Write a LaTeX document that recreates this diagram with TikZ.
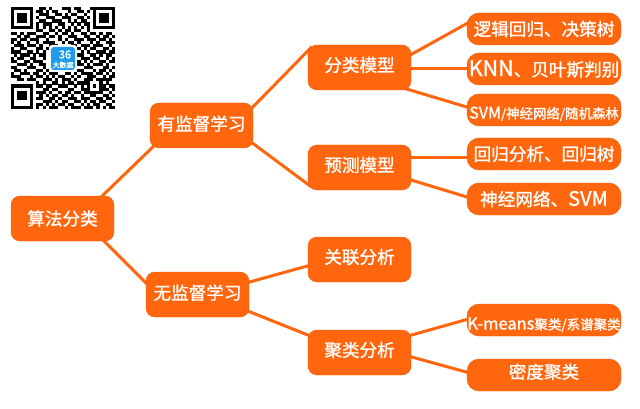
\documentclass[tikz,border=0pt]{standalone}
\usepackage{fontspec}
\setmainfont[FakeBold=1.3]{Noto Sans CJK SC}
\usetikzlibrary{calc,backgrounds}
\definecolor{boxorange}{HTML}{FF660D}
\definecolor{logoblue}{HTML}{1E9BEA}
\tikzset{
  base/.style={fill=boxorange,draw=boxorange!92!black,line width=.4pt,text=white,inner sep=0pt,align=center},
  midbox/.style={base,rounded corners=9pt,minimum width=103pt,minimum height=45pt},
  leaf/.style={base,rounded corners=12pt,minimum width=154pt,minimum height=32pt},
  link/.style={draw=boxorange,line width=3pt},
  qrcell/.style={fill=black,draw=none}
}
\newcommand{\tsize}[1]{\fontsize{#1}{#1}\selectfont}
\newcount\qrcol
\newcommand{\qrscan}[1]{\ifx#1;\else\if#11\fill[qrcell] ({11+\the\qrcol*3.16},{7+\qrrowno*3.1}) rectangle ++(3.2,3.15);\fi\advance\qrcol by 1 \expandafter\qrscan\fi}
\begin{document}
\begin{tikzpicture}[x=1pt,y=-1pt]
\useasboundingbox (0,0) rectangle (640,409);
% QR code
\foreach \qrrowno/\qrbits in {
0/111111100110100011101100011111111,
1/100000101101011000100110101000001,
2/101110100111001101011001001011101,
3/101110101001110011100110101011101,
4/101110100110011100101011001011101,
5/100000101011100110010101101000001,
6/111111101010101010101010101111111,
7/000000001100110101101100100000000,
8/110101110011001011010011011010110,
9/001011001110110100111001100101101,
10/110110111001000101001110111011010,
11/101001001011110010110100010100111,
12/011101110100111000011011101110010,
13/100110001101000000000101011001101,
14/111001101010000000000010100111011,
15/010111010110000000000110011010110,
16/101100110010000000000011101100101,
17/110011011100000000000101010011011,
18/001110100110000000000110101110100,
19/110001110010000000000001110001101,
20/011010001101000000000110001011010,
21/100111011010111001101011110110101,
22/111000101101010110010100111001011,
23/001101110011101011101001110111110,
24/000000001010011010110111100010100,
25/111111101101100111001010101011011,
26/100000100011011000110011100011101,
27/101110101110100101101101111110010,
28/101110100101011011010010011001101,
29/101110101100110100111011100110110,
30/100000100011101011001101011011001,
31/100000101101010110110010101100110,
32/111111101010111001011101110101011}
{\qrcol=0 \expandafter\qrscan\qrbits;}
% logo
\fill[white,rounded corners=3pt] (49,45) rectangle (77,72);
\fill[logoblue,rounded corners=3pt] (51,47) rectangle (75,70);
\node[text=white,inner sep=0pt] (logoa) at (65,54.5) {\tsize{11}36};
\node[text=white,inner sep=0pt] (logob) at (63,65) {\tsize{7}大数据};
% nodes
\node[midbox] (root) at (62.5,218.5) {\tsize{17.6}算法分类};
\node[midbox,text depth=5pt] (sup) at (201.5,125.5) {\tsize{17.6}有监督学习};
\node[midbox,text depth=5pt] (unsup) at (197.5,294.5) {\tsize{17.6}无监督学习};
\node[midbox,text depth=6.5pt] (cls) at (359.5,67.5) {\tsize{17.6}分类模型};
\node[midbox,text depth=6.5pt] (pred) at (359.5,167.5) {\tsize{17.6}预测模型};
\node[midbox,text depth=6.5pt] (assoc) at (359.5,259.5) {\tsize{17.6}关联分析};
\node[midbox,text depth=6.5pt] (clust) at (359.5,352.5) {\tsize{17.6}聚类分析};
\node[leaf] (la) at (544,29) {\tsize{17.6}逻辑回归、决策树};
\node[leaf] (lb) at (544,69) {\tsize{17.6}{\tsize{21.5}KNN}、贝叶斯判别};
\node[leaf,text height=17pt,text depth=0pt] (lc) at (544,110) {\tsize{13.4}{\tsize{16}SVM}/神经网络/随机森林};
\node[leaf] (ld) at (544,154) {\tsize{17.6}回归分析、回归树};
\node[leaf] (le) at (544,199) {\tsize{17.6}神经网络、{\tsize{20}SVM}};
\node[leaf,text height=19pt,text depth=0pt] (lf) at (544,320) {\tsize{13.5}{\tsize{16.5}K-means}聚类/系谱聚类};
\node[leaf,text depth=8pt] (lg) at (544,375) {\tsize{17.6}密度聚类};
% connectors
\begin{scope}[on background layer]
\draw[link] ($(root.north east)+(-17,5)$) -- ($(sup.south west)+(8,-6)$);
\draw[link] ($(root.south east)+(-15,-5)$) -- ($(unsup.north west)+(6,17)$);
\draw[link] ($(sup.north east)+(-6,10)$) -- ($(cls.north west)+(4,2)$);
\draw[link] ($(sup.south east)+(-6,-9)$) -- ($(pred.south west)+(4,-3)$);
\draw[link] ($(unsup.north east)+(-6,12)$) -- ($(assoc.south west)+(6,-18)$);
\draw[link] ($(unsup.south east)+(-6,-8)$) -- ($(clust.north west)+(7,8)$);
\draw[link] ($(cls.north east)+(-6,13)$) -- ($(la.south west)+(6,-25)$);
\draw[link] ($(cls.east |- lb.west)+(-5,0)$) -- ($(lb.west)+(5,0)$);
\draw[link] ($(cls.south east)+(-14,-4)$) -- ($(lc.north west)+(6,15)$);
\draw[link] ($(pred.north east)+(-5,12.5)$) -- ($(ld.north west)+(5,19.5)$);
\draw[link] ($(pred.south east)+(-6,-12)$) -- ($(le.north west)+(6,16)$);
\draw[link] ($(clust.north east)+(-6,7)$) -- ($(lf.north west)+(6,14)$);
\draw[link] ($(clust.south east)+(-6,-20)$) -- ($(lg.north west)+(6,15)$);
\end{scope}
\end{tikzpicture}
\end{document}
